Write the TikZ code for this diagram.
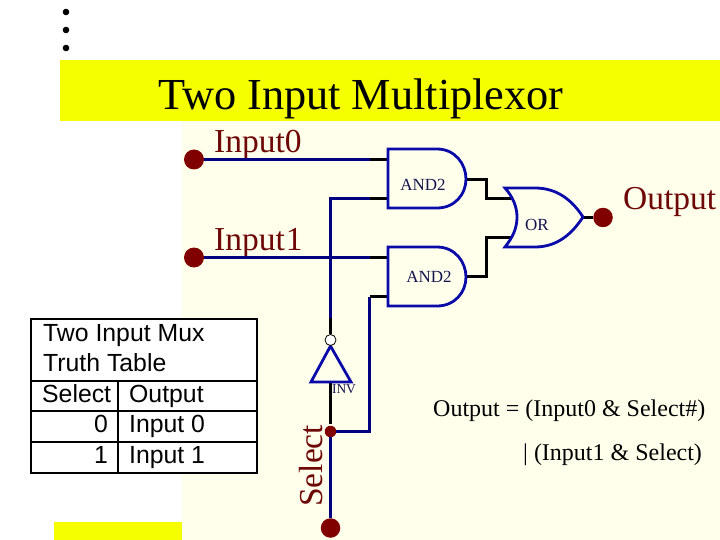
\documentclass[tikz,border=0pt]{standalone}
\usepackage{fontspec}
\usepackage{xcolor}
\setmainfont{Liberation Serif}
\newfontfamily\tablefont{Liberation Sans}
\definecolor{titleyellow}{RGB}{245,255,0}
\definecolor{paper}{RGB}{255,255,236}
\definecolor{labelred}{RGB}{110,8,8}
\definecolor{padred}{RGB}{128,0,0}
\definecolor{wireblue}{RGB}{0,0,128}
\definecolor{gateblue}{RGB}{10,10,170}
\definecolor{gatetext}{RGB}{20,20,80}
\tikzset{
  pad/.style={circle,fill=padred,inner sep=0pt,minimum size=#1},
  pinlabel/.style={text=labelred,font=\fontsize{33.5}{36}\selectfont,inner sep=0pt,anchor=base west},
  gatelabel/.style={text=gatetext,font=\fontsize{17}{18}\selectfont,inner sep=0pt},
  gate/.style={draw=gateblue,line width=2.8pt,fill=paper},
  wire/.style={draw=wireblue,line width=2.6pt},
  stub/.style={draw=black,line width=2.6pt},
  rowtext/.style={font=\tablefont\fontsize{24.8}{26}\selectfont,inner sep=0pt,anchor=base west},
  eqtext/.style={font=\fontsize{24}{26}\selectfont,inner sep=0pt,anchor=base west}
}
\begin{document}
\begin{tikzpicture}[x=1pt,y=-1pt]
  \useasboundingbox (0,0) rectangle (720,540);
  \fill[white] (0,0) rectangle (720,540);
  \fill[paper] (182,121) rectangle (720,540);
  \fill[titleyellow] (60,60) rectangle (720,121);
  \fill[titleyellow] (54,522) rectangle (182,540);
  \foreach \y in {12,30,48}
    \fill[black] (66,\y) circle (3.3);
  \node[inner sep=0pt,anchor=base west,font=\fontsize{44.3}{48}\selectfont] (title) at (158,110) {Two Input Multiplexor};
  % pads
  \node[pad=20pt] (input0) at (194,159.5) {};
  \node[pad=20pt] (input1) at (194,257.5) {};
  \node[pad=19.5pt] (output) at (603,217.5) {};
  \node[pad=19.5pt] (select) at (330.5,528) {};
  \node[pad=11.5pt] (branch) at (330.5,431.5) {};
  \node[pinlabel] (input0label) at (214,153) {Input0};
  \node[pinlabel] (input1label) at (214,250) {Input\kern1pt 1};
  \node[pinlabel] (outputlabel) at (623,210) {Output};
  \node[pinlabel,rotate=90] (selectlabel) at (322,507) {Select};
  % pin points
  \coordinate (stub0a) at (370,159.5);
  \coordinate (and0a) at (388,159.5);
  \coordinate (stub0b) at (370,198.5);
  \coordinate (and0b) at (388,198.5);
  \coordinate (and0out) at (466,179.5);
  \coordinate (stub1a) at (370,257.5);
  \coordinate (and1a) at (388,257.5);
  \coordinate (stub1b) at (369.5,296.5);
  \coordinate (and1b) at (388,296.5);
  \coordinate (and1out) at (466,276.5);
  \coordinate (ormida) at (486.5,198.5);
  \coordinate (ormidb) at (486.5,237.5);
  \coordinate (ora) at (513,198.5);
  \coordinate (orb) at (513,237.5);
  \coordinate (orout) at (583,217.5);
  \coordinate (notin) at (330.5,382);
  \coordinate (notout) at (330.5,334);
  \coordinate (notstub) at (330.5,318);
  \coordinate (notend) at (330.5,424);
  % wires
  \draw[wire] (input0) -- (stub0a);
  \draw[stub] (stub0a) -- (and0a);
  \draw[wire] (input1) -- (stub1a);
  \draw[stub] (stub1a) -- (and1a);
  \draw[wire] (notstub) |- (stub0b);
  \draw[stub] (stub0b) -- (and0b);
  \draw[stub] (notout) -- (notstub);
  \draw[wire] (select) -- (branch);
  \draw[stub] (notin) -- (notend);
  \draw[wire] (branch) -| (stub1b);
  \draw[stub] (stub1b) -- (and1b);
  \draw[stub] (and0out) -| (ormida) -- (ora);
  \draw[stub] (and1out) -| (ormidb) -- (orb);
  \draw[stub] (orout) -- (output);
  % gates
  \draw[gate] (388,149) -- (437,149) .. controls (455,149) and (466,164) .. (466,179)
    .. controls (466,194) and (455,208) .. (437,208) -- (388,208) -- cycle;
  \draw[gate] (388,247) -- (437,247) .. controls (455,247) and (466,262) .. (466,277)
    .. controls (466,292) and (455,306) .. (437,306) -- (388,306) -- cycle;
  \draw[gate] (505,188) -- (535,188) .. controls (557,188) and (572,200) .. (583,217)
    .. controls (572,234) and (557,247) .. (535,247) -- (505,247)
    .. controls (513,237) and (517,228) .. (517,217) .. controls (517,207) and (513,197) .. (505,188) -- cycle;
  \draw[gate] (311,382) -- (351,382) -- (330.5,346) -- cycle;
  \node[draw=black,fill=white,circle,inner sep=0pt,minimum size=11pt,line width=0.8pt] (bubble) at (330.5,340) {};
  \node[gatelabel] (and0label) at (423,185) {AND2};
  \node[gatelabel] (and1label) at (429,277) {AND2};
  \node[gatelabel] (orlabel) at (537,225) {OR};
  \node[gatelabel,font=\fontsize{13.5}{14}\selectfont] (notlabel) at (344,389) {INV};
  % equation
  \node[eqtext] (eq0) at (433,416) {Output = (Input0 \& Select\#)};
  \node[eqtext] (eq1) at (523,460) {| (Input1 \& Select)};
  % truth table
  \draw[fill=white,line width=2.2pt] (31,319) rectangle (257,473);
  \draw[line width=2.2pt] (31,381) -- (257,381) (31,411) -- (257,411) (31,442) -- (257,442) (118,381) -- (118,473);
  \node[rowtext] (row0) at (43,341) {Two Input Mux};
  \node[rowtext] (row1) at (43,371) {Truth Table};
  \node[rowtext] (row2) at (42,402) {Select};
  \node[rowtext] (row2b) at (129,402) {Output};
  \node[rowtext,anchor=base east] (row3) at (108,432) {0};
  \node[rowtext] (row3b) at (129,432) {Input 0};
  \node[rowtext,anchor=base east] (row4) at (108,463) {1};
  \node[rowtext] (row4b) at (129,463) {Input 1};
\end{tikzpicture}
\end{document}
